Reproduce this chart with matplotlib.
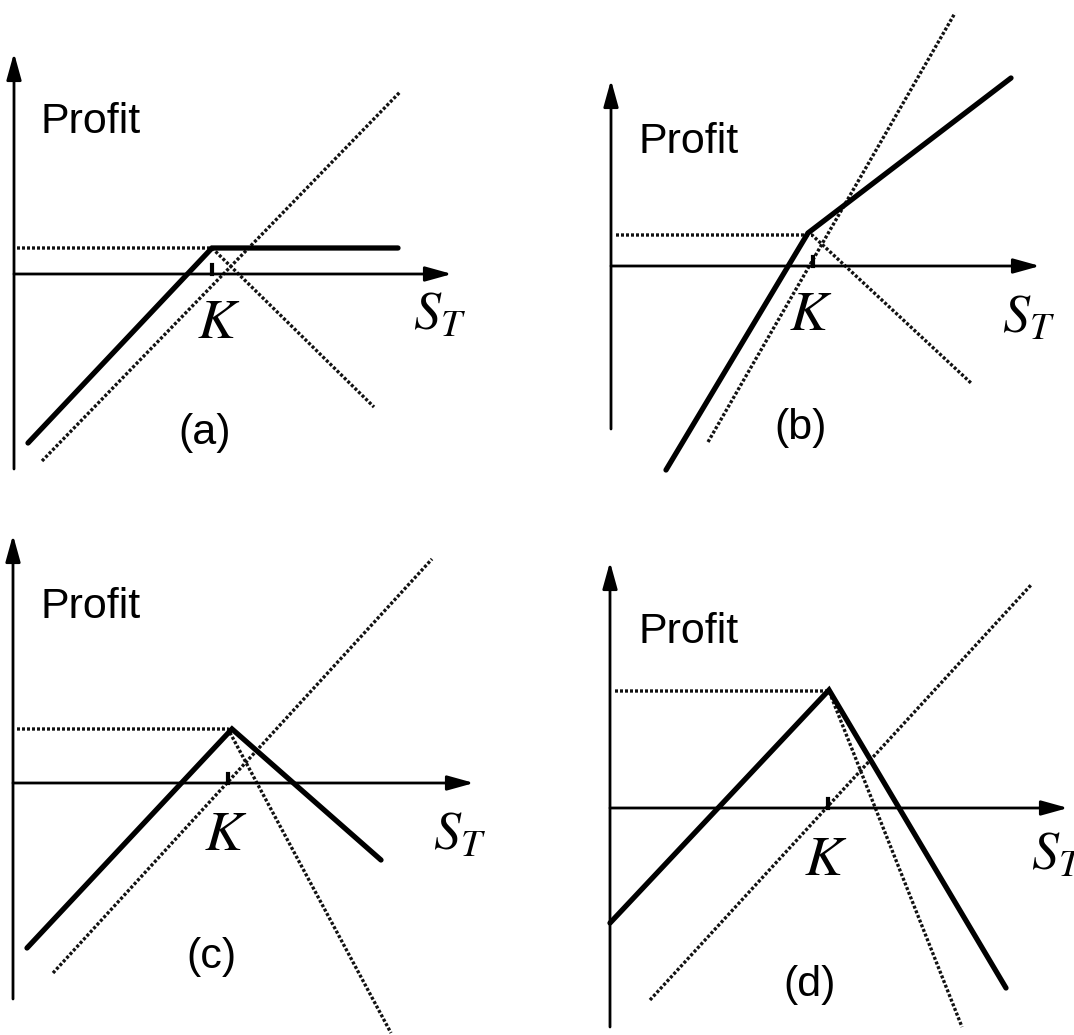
import matplotlib
matplotlib.use("Agg")
import matplotlib.pyplot as plt

plt.rcParams["mathtext.fontset"] = "stix"
plt.rcParams["font.family"] = ["Liberation Sans", "DejaVu Sans"]

W, H = 1074, 1035

# values, per panel: S_T along x, profit along y
panels = ["(a)", "(b)", "(c)", "(d)"]
strike = [198, 202, 215, 218]
premium = [26, 31, 54, 117]

# thick solid line = combined position
combo_s = [[14, 198, 384], [55, 197, 400], [14, 219, 368], [0, 219, 396]]
combo_p = [[-169, 26, 26], [-204, 33, 188], [-165, 54, -77], [-115, 118, -180]]

# dotted line = stock
stock_s = [[28, 386], [97, 344], [40, 419], [40, 421]]
stock_p = [[-187, 182], [-176, 253], [-190, 224], [-192, 223]]

# dotted line = option(s)
opt_s = [[3, 198, 360], [5, 201, 360], [4, 215, 378], [5, 219, 352]]
opt_p = [[26, 26, -133], [31, 31, -117], [54, 54, -250], [117, 117, -219]]

# axis extents
yaxis_top = [221, 186, 248, 246]
yaxis_bot = [-195, -163, -216, -219]
xaxis_end = [438, 429, 461, 458]

# label positions
profit_xy = [(27, 141), (27, 113), (28, 165), (28, 165)]
k_xy = [(205, -64), (200, -64), (213, -67), (216, -67)]
st_xy = [(399, -56), (391, -67), (420, -67), (421, -62)]
tag_xy = [(191, -159), (190, -162), (198, -174), (200, -177)]

# layout: quadrant boxes and axis origins in pixels
boxes = [(0, 0, 537, 517), (537, 0, 1074, 517), (0, 517, 537, 1035), (537, 517, 1074, 1035)]
origins = [(14, 274), (611, 266), (13, 783), (610, 808)]

fig = plt.figure(figsize=(W / 100, H / 100), dpi=100)

dot = (0, (0.9, 0.6))
for i in range(4):
    x0, y0, x1, y1 = boxes[i]
    ox, oy = origins[i]
    ax = fig.add_axes([x0 / W, 1 - y1 / H, (x1 - x0) / W, (y1 - y0) / H])
    ax.set_xlim(x0 - ox, x1 - ox)
    ax.set_ylim(oy - y1, oy - y0)
    ax.axis("off")

    arrow = dict(arrowstyle="-|>,head_length=0.9,head_width=0.25", lw=2.0,
                 color="k", mutation_scale=18, shrinkA=0, shrinkB=0)
    ax.annotate("", xy=(0, yaxis_top[i]), xytext=(0, yaxis_bot[i]),
                arrowprops=arrow, annotation_clip=False)
    ax.annotate("", xy=(xaxis_end[i], 0), xytext=(0, 0),
                arrowprops=arrow, annotation_clip=False)

    ax.plot(opt_s[i], opt_p[i], color="#111111", lw=2.4, ls=dot, clip_on=False)
    ax.plot(stock_s[i], stock_p[i], color="#111111", lw=2.4, ls=dot, clip_on=False)
    ax.plot(combo_s[i], combo_p[i], color="k", lw=3.8, solid_capstyle="round",
            solid_joinstyle="miter", clip_on=False)
    ax.plot([strike[i], strike[i]], [0, 9], color="k", lw=3.0, clip_on=False)

    ax.text(*profit_xy[i], "Profit", fontsize=31, ha="left", va="baseline")
    ax.text(*k_xy[i], "$K$", fontsize=41, ha="center", va="baseline")
    ax.text(*st_xy[i], "$S_T$", fontsize=39, ha="left", va="baseline", clip_on=False)
    ax.text(*tag_xy[i], panels[i], fontsize=31, ha="center", va="center")

fig.savefig("out.png", dpi=100)
